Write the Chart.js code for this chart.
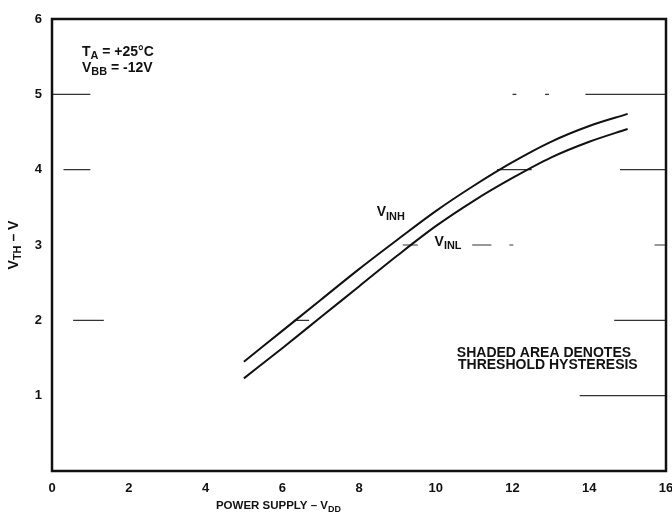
<!DOCTYPE html>
<html>
<head>
<meta charset="utf-8">
<script src="https://cdn.jsdelivr.net/npm/chart.js@4/dist/chart.umd.min.js"></script>
<style>
  html, body { margin: 0; padding: 0; background: #fff; }
  canvas { display: block; }
</style>
</head>
<body>
<canvas id="c" width="672" height="519"></canvas>
<script>
// Supply voltage (V) at which the thresholds were measured
const vdd = [5, 6, 7, 8, 9, 10, 11, 12, 13, 14, 15];
// Input high threshold V_INH (V)
const vinh = [1.45, 1.86, 2.27, 2.68, 3.07, 3.45, 3.79, 4.10, 4.37, 4.58, 4.74];
// Input low threshold V_INL (V)
const vinl = [1.23, 1.63, 2.04, 2.45, 2.86, 3.25, 3.59, 3.89, 4.16, 4.37, 4.54];

// Axis tick values
const xTicks = [0, 2, 4, 6, 8, 10, 12, 14, 16];
const yTicks = [1, 2, 3, 4, 5, 6];

// Remaining fragments of the hysteresis shading grid: level, start, end (axis units)
const shadeLevels = [5, 4, 2, 2, 3, 3, 3, 4, 5, 5, 5, 4, 3, 2, 1];
const shadeStart  = [0.0, 0.3, 0.55, 6.3, 9.14, 10.95, 11.92, 11.6, 12.0, 12.85, 13.9, 14.8, 15.7, 14.65, 13.75];
const shadeEnd    = [1.0, 1.0, 1.35, 6.7, 9.53, 11.45, 12.02, 12.5, 12.1, 12.95, 16.0, 16.0, 16.0, 16.0, 16.0];

const FONT = '"Liberation Sans", Arial, sans-serif';
const INK = '#111';

const toPts = (xs, ys) => xs.map((x, i) => ({ x: x, y: ys[i] }));

// Build one dataset holding every shading fragment, separated by gaps
const shadePts = [];
shadeLevels.forEach((lv, i) => {
  shadePts.push({ x: shadeStart[i], y: lv });
  shadePts.push({ x: shadeEnd[i], y: lv });
  shadePts.push({ x: shadeEnd[i], y: null });
});

// Rich text with subscripts, drawn at an anchor point
function richWidth(ctx, parts, size) {
  let w = 0;
  parts.forEach(p => {
    ctx.font = 'bold ' + (p.sub ? size * 0.78 : size) + 'px ' + FONT;
    w += ctx.measureText(p.t).width;
  });
  return w;
}
function drawRich(ctx, parts, x, y, size, align) {
  let w = richWidth(ctx, parts, size);
  let cx = align === 'center' ? x - w / 2 : x;
  ctx.textBaseline = 'middle';
  ctx.textAlign = 'left';
  parts.forEach(p => {
    const s = p.sub ? size * 0.78 : size;
    ctx.font = 'bold ' + s + 'px ' + FONT;
    ctx.fillText(p.t, cx, p.sub ? y + size * 0.28 : y);
    cx += ctx.measureText(p.t).width;
  });
}

// Notes placed in data coordinates
const notes = [
  { x: 0.78, y: 5.56, size: 14, parts: [{ t: 'T' }, { t: 'A', sub: true }, { t: ' = +25°C' }] },
  { x: 0.78, y: 5.35, size: 14, parts: [{ t: 'V' }, { t: 'BB', sub: true }, { t: ' = -12V' }] },
  { x: 8.46, y: 3.43, size: 14, parts: [{ t: 'V' }, { t: 'INH', sub: true }] },
  { x: 9.97, y: 3.04, size: 14, parts: [{ t: 'V' }, { t: 'INL', sub: true }] },
  { x: 10.55, y: 1.57, size: 14, parts: [{ t: 'SHADED AREA DENOTES' }] },
  { x: 10.58, y: 1.41, size: 14, parts: [{ t: 'THRESHOLD HYSTERESIS' }] }
];

const decor = {
  id: 'decor',
  afterDraw(chart) {
    const ctx = chart.ctx;
    const a = chart.chartArea;
    const xs = chart.scales.x, ys = chart.scales.y;
    ctx.save();
    // plot frame
    ctx.strokeStyle = INK;
    ctx.lineWidth = 2.5;
    ctx.strokeRect(a.left, a.top, a.right - a.left, a.bottom - a.top);
    ctx.fillStyle = INK;
    notes.forEach(n => {
      drawRich(ctx, n.parts, xs.getPixelForValue(n.x), ys.getPixelForValue(n.y), n.size, 'left');
    });
    // x axis title
    drawRich(ctx, [{ t: 'POWER SUPPLY – V' }, { t: 'DD', sub: true }],
      xs.getPixelForValue(5.9), 506, 11.5, 'center');
    // y axis title (rotated)
    ctx.translate(14, ys.getPixelForValue(3.0));
    ctx.rotate(-Math.PI / 2);
    drawRich(ctx, [{ t: 'V' }, { t: 'TH', sub: true }, { t: ' – V' }], 0, 0, 14, 'center');
    ctx.restore();
  }
};

new Chart(document.getElementById('c'), {
  type: 'line',
  data: {
    datasets: [
      { label: 'VINH', data: toPts(vdd, vinh), borderColor: INK, borderWidth: 2,
        pointRadius: 0, cubicInterpolationMode: 'monotone', fill: false },
      { label: 'VINL', data: toPts(vdd, vinl), borderColor: INK, borderWidth: 2,
        pointRadius: 0, cubicInterpolationMode: 'monotone', fill: false },
      { label: 'shade', data: shadePts, borderColor: '#333', borderWidth: 1.2,
        pointRadius: 0, spanGaps: false, tension: 0, fill: false }
    ]
  },
  options: {
    responsive: false,
    animation: false,
    devicePixelRatio: 1,
    layout: { padding: { top: 19, right: 6, left: 0, bottom: 0 } },
    plugins: { legend: { display: false }, tooltip: { enabled: false } },
    scales: {
      x: {
        type: 'linear', min: 0, max: 16,
        grid: { display: false, drawTicks: false },
        border: { display: false },
        afterBuildTicks: s => { s.ticks = xTicks.map(v => ({ value: v })); },
        afterFit: s => { s.height = 48; s.paddingLeft = 0; s.paddingRight = 0; },
        ticks: { color: INK, padding: 10, font: { family: FONT, size: 13, weight: 'bold' } }
      },
      y: {
        type: 'linear', min: 0, max: 6,
        grid: { display: false, drawTicks: false },
        border: { display: false },
        afterBuildTicks: s => { s.ticks = yTicks.map(v => ({ value: v })); },
        afterFit: s => { s.width = 52; s.paddingTop = 0; s.paddingBottom = 0; },
        ticks: { color: INK, padding: 10, font: { family: FONT, size: 13, weight: 'bold' } }
      }
    }
  },
  plugins: [decor]
});
</script>
</body>
</html>
